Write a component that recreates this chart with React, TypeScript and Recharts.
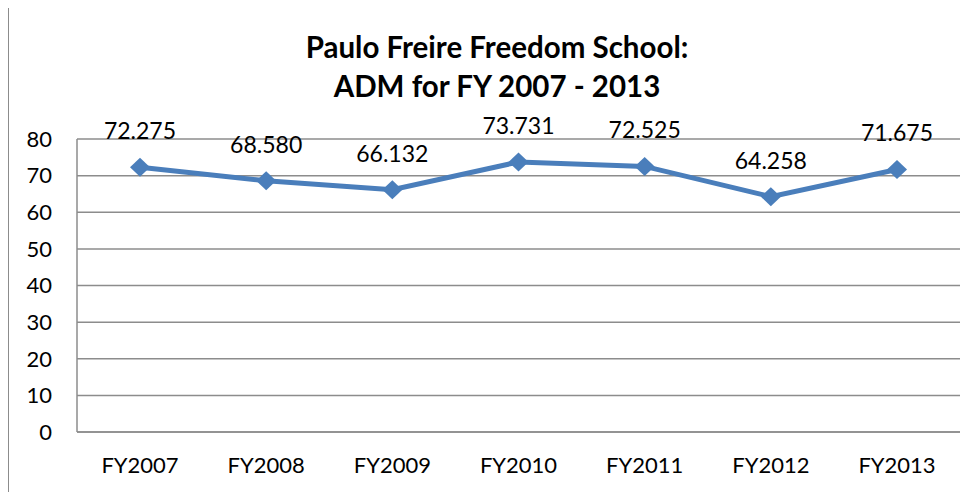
import React from 'react';
import { LineChart, Line, XAxis, YAxis, CartesianGrid, LabelList } from 'recharts';

const years = ['FY2007', 'FY2008', 'FY2009', 'FY2010', 'FY2011', 'FY2012', 'FY2013'];
const adm = [72.275, 68.58, 66.132, 73.731, 72.525, 64.258, 71.675];
const yTicks = [0, 10, 20, 30, 40, 50, 60, 70, 80];
const titleLines = ['Paulo Freire Freedom School:', 'ADM for FY 2007 - 2013'];

const data = years.map((fy, i) => ({ fy, adm: adm[i] }));

const FONT = 'Lato, "Open Sans", sans-serif';
const BLUE = '#4A7EBB';
const GRID = '#8C8C8C';

// losange comme dans Excel
const Diamond = (props: any) => {
  const { cx, cy } = props;
  if (cx == null || cy == null) return null;
  const w = 10;
  const h = 9.5;
  return (
    <polygon
      points={`${cx},${cy - h} ${cx + w},${cy} ${cx},${cy + h} ${cx - w},${cy}`}
      fill={BLUE}
    />
  );
};

export default function App() {
  return (
    <div style={{ position: 'relative', width: 969, height: 484 }}>
      <div
        style={{
          position: 'absolute',
          left: 0,
          top: -1,
          width: 969,
          height: 485,
          borderLeft: `1.5px solid ${GRID}`,
          borderTop: `1.5px solid ${GRID}`,
          boxSizing: 'border-box',
        }}
      />
      <svg
        width={969}
        height={110}
        style={{ position: 'absolute', left: 0, top: 0 }}
      >
        {titleLines.map((t, i) => (
          <text
            key={t}
            x={489}
            y={50 + i * 39}
            textAnchor="middle"
            fontFamily={FONT}
            fontWeight="bold"
            fontSize={29.5}
            fill="#000"
          >
            {t}
          </text>
        ))}
      </svg>
      <div style={{ position: 'absolute', left: 0, top: 0 }}>
        <LineChart
          width={969}
          height={484}
          data={data}
          margin={{ top: 131, right: 17, bottom: 30, left: 0 }}
        >
          <CartesianGrid vertical={false} stroke={GRID} strokeWidth={1.5} />
          <XAxis
            dataKey="fy"
            height={30}
            padding={{ left: 63, right: 63 }}
            axisLine={{ stroke: GRID, strokeWidth: 1.5 }}
            tickLine={false}
            tickSize={0}
            tickMargin={25}
            tick={{ fill: '#000', fontSize: 22, fontFamily: FONT }}
            interval={0}
          />
          <YAxis
            width={69}
            domain={[0, 80]}
            ticks={yTicks}
            axisLine={{ stroke: GRID, strokeWidth: 1.5 }}
            tickLine={false}
            tickSize={0}
            tickMargin={25}
            tick={{ fill: '#000', fontSize: 22, fontFamily: FONT }}
          />
          <Line
            dataKey="adm"
            stroke={BLUE}
            strokeWidth={5}
            dot={<Diamond />}
            activeDot={false}
            isAnimationActive={false}
          >
            <LabelList
              dataKey="adm"
              position="top"
              offset={28}
              formatter={(v: any) => Number(v).toFixed(3)}
              fill="#000"
              fontSize={23}
              fontFamily={FONT}
            />
          </Line>
        </LineChart>
      </div>
    </div>
  );
}
